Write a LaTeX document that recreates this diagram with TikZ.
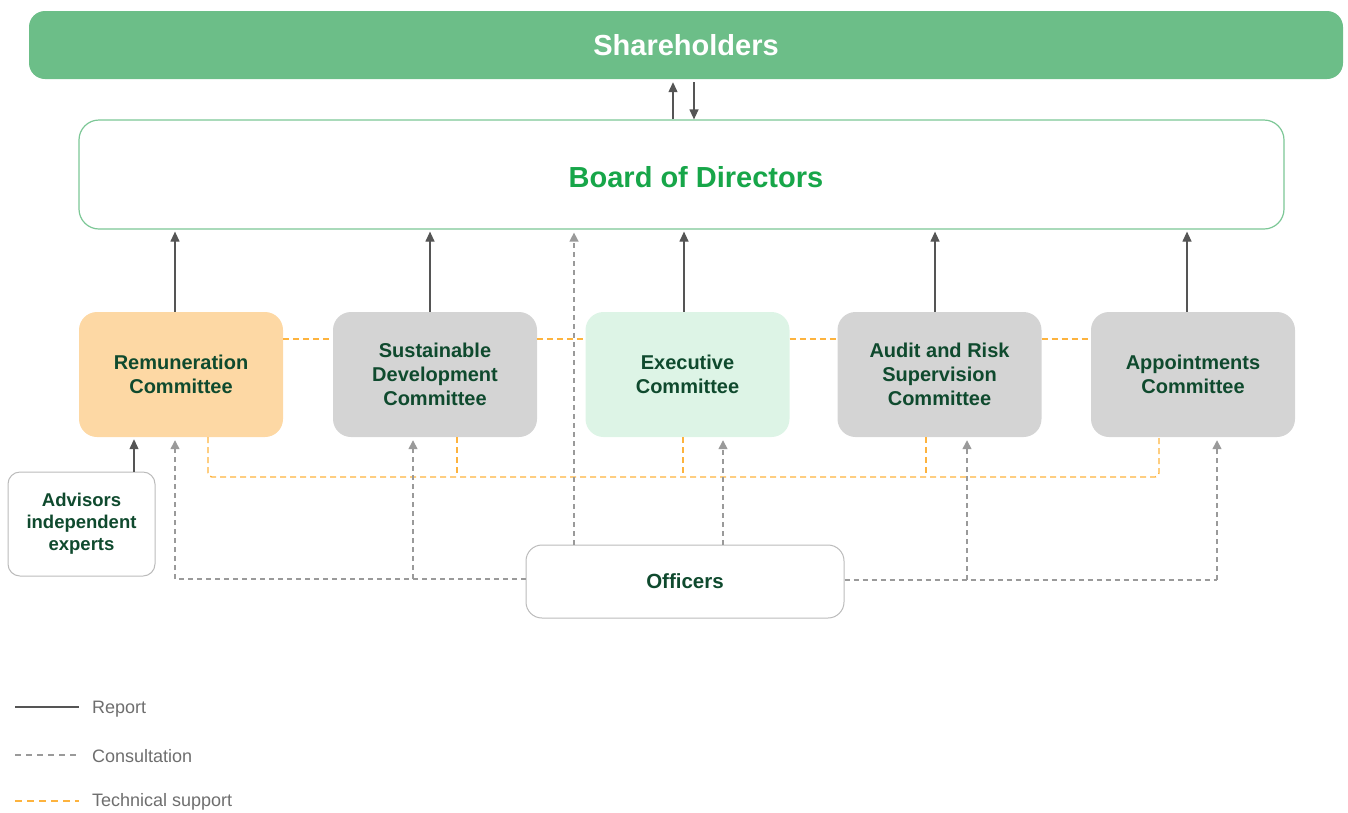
\documentclass[tikz,border=0pt]{standalone}
\usepackage{fontspec}
\setmainfont{Liberation Sans}
\usetikzlibrary{arrows.meta}
\definecolor{shgreen}{HTML}{6CBE88}
\definecolor{bdline}{HTML}{7CC796}
\definecolor{bdtext}{HTML}{17A649}
\definecolor{dkgreen}{HTML}{0F4A2E}
\definecolor{peach}{HTML}{FDD8A4}
\definecolor{lgray}{HTML}{D4D4D4}
\definecolor{mint}{HTML}{DDF4E6}
\definecolor{orng}{HTML}{FDB33E}
\definecolor{cgray}{HTML}{9A9A9A}
\definecolor{rgray}{HTML}{555555}
\definecolor{lgtext}{HTML}{6E6E6E}
\definecolor{boxline}{HTML}{BBBBBB}
\tikzset{
  comm/.style={rounded corners=18pt, minimum width=204pt, minimum height=125pt, inner sep=0pt,
    align=center, text=dkgreen, font=\fontsize{20}{24}\selectfont\bfseries},
  report/.style={draw=rgray, line width=1.2pt, -{Triangle[length=10pt,width=9pt]}},
  consult/.style={draw=cgray, line width=1.4pt, dash pattern=on 5pt off 4pt, -{Triangle[length=9pt,width=9pt]}},
  consultl/.style={draw=cgray, line width=1.4pt, dash pattern=on 5pt off 4pt},
  tech/.style={draw=orng, line width=1.4pt, dash pattern=on 6pt off 4pt},
  legtext/.style={anchor=west, text=lgtext, font=\fontsize{18}{20}\selectfont, inner sep=0pt}
}
\begin{document}
\begin{tikzpicture}[x=1pt,y=-1pt]
\useasboundingbox (0,0) rectangle (1348,812);
% Shareholders
\node[fill=shgreen, rounded corners=16pt, minimum width=1314pt, minimum height=68pt, inner sep=0pt,
  text=white, font=\fontsize{29}{32}\selectfont\bfseries] (sh) at (686,45) {Shareholders};
% Board
\node[draw=bdline, line width=1.2pt, fill=white, rounded corners=20pt, minimum width=1205pt, minimum height=109pt, inner sep=0pt] (bd) at (681.5,174.5) {};
\node[text=bdtext, font=\fontsize{29}{32}\selectfont\bfseries, inner sep=0pt] (bdt) at (696,177) {Board of Directors};
% Committees
\node[comm, fill=peach] (rem) at (181,374.5) {Remuneration\\Committee};
\node[comm, fill=lgray] (sus) at (435,374.5) {Sustainable\\Development\\Committee};
\node[comm, fill=mint] (exe) at (687.5,374.5) {Executive\\Committee};
\node[comm, fill=lgray] (aud) at (939.5,374.5) {Audit and Risk\\Supervision\\Committee};
\node[comm, fill=lgray] (app) at (1193,374.5) {Appointments\\Committee};
% Officers
\node[draw=boxline, line width=1pt, fill=white, rounded corners=16pt, minimum width=318pt, minimum height=73pt, inner sep=0pt,
  text=dkgreen, font=\fontsize{20.5}{24}\selectfont\bfseries] (off) at (685,581.5) {Officers};
% Advisors
\node[draw=boxline, line width=1pt, fill=white, rounded corners=12pt, minimum width=147pt, minimum height=104pt, inner sep=0pt,
  align=center, text=dkgreen, font=\fontsize{18.5}{22}\selectfont\bfseries] (adv) at (81.5,524) {Advisors\\independent\\experts};

% shareholders <-> board
\draw[report] (bd.north -| 673,0) -- ([yshift=-3pt]sh.south -| 673,0);
\draw[report] ([yshift=-3pt]sh.south -| 694,0) -- (bd.north -| 694,0);
% reports to board
\foreach \n/\x in {rem/175, sus/430, exe/684, aud/935, app/1187}
  \draw[report] (\n.north -| \x,0) -- ([yshift=-2pt]bd.south -| \x,0);
% advisors -> remuneration
\draw[report] (adv.north -| 134,0) -- ([yshift=-2pt]rem.south -| 134,0);

% technical support (orange)
\draw[tech] (rem.east |- 0,339) -- (sus.west |- 0,339);
\draw[tech] (sus.east |- 0,339) -- (exe.west |- 0,339);
\draw[tech] (exe.east |- 0,339) -- (aud.west |- 0,339);
\draw[tech] (aud.east |- 0,339) -- (app.west |- 0,339);
\coordinate (tL) at (208,477);
\coordinate (tR) at (1159,477);
\draw[tech, rounded corners=4pt] (rem.south -| tL) -- (tL) -- (tR) -- (app.south -| tR);
\draw[tech] (sus.south -| 457,0) -- (457,477);
\draw[tech] (exe.south -| 683,0) -- (683,477);
\draw[tech] (aud.south -| 926,0) -- (926,477);

% consultation (gray)
\coordinate (cL) at (175,579);
\coordinate (cR) at (1217,580);
\draw[consultl] (off.west |- cL) -- (cL);
\draw[consult] (cL) -- ([yshift=-3pt]rem.south -| cL);
\draw[consult] (413,579) -- ([yshift=-3pt]sus.south -| 413,0);
\draw[consultl] (off.east |- cR) -- (cR);
\draw[consult] (cR) -- ([yshift=-3pt]app.south -| cR);
\draw[consult] (967,580) -- ([yshift=-3pt]aud.south -| 967,0);
\draw[consult] (off.north -| 723,0) -- ([yshift=-3pt]exe.south -| 723,0);
\draw[consult] (off.north -| 574,0) -- ([yshift=-3pt]bd.south -| 574,0);

% legend
\coordinate (l1a) at (15,707); \coordinate (l1b) at (79,707);
\coordinate (l2a) at (15,755); \coordinate (l2b) at (79,755);
\coordinate (l3a) at (15,801); \coordinate (l3b) at (79,801);
\draw[draw=rgray, line width=1.3pt] (l1a) -- (l1b);
\draw[consultl, line width=1.2pt, dash pattern=on 6pt off 5pt] (l2a) -- (l2b);
\draw[tech, line width=1.6pt, dash pattern=on 7pt off 5pt] (l3a) -- (l3b);
\node[legtext] (lg1) at (92,709) {Report};
\node[legtext] (lg2) at (92,756) {Consultation};
\node[legtext] (lg3) at (92,802) {Technical support};
\end{tikzpicture}
\end{document}
